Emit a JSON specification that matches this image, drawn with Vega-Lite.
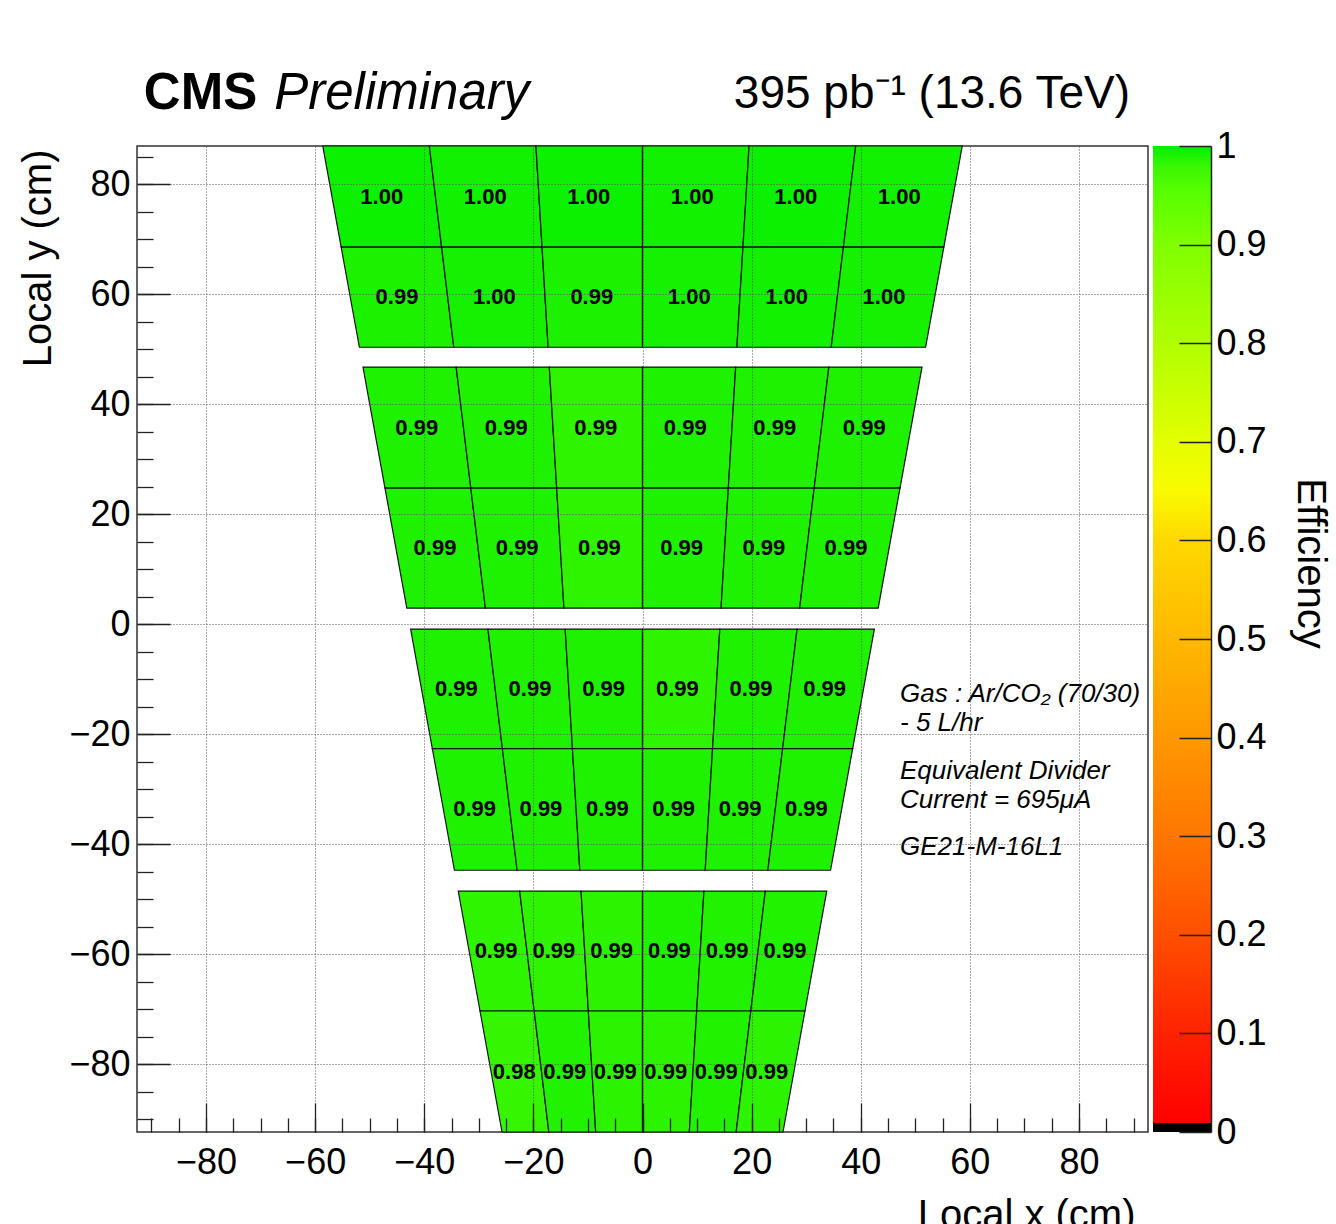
{
"$schema": "https://vega.github.io/schema/vega-lite/v6.json",
"usermeta": {"embedOptions": {"actions": false}},
"background": "white",
"padding": {"left": 17, "top": 67, "right": 8, "bottom": -12},
"bounds": "flush",
"spacing": 5,
"config": {
  "font": "Liberation Sans",
  "view": {"stroke": "#333", "strokeWidth": 1.5},
  "axis": {"labelFont": "Liberation Sans", "titleFont": "Liberation Sans", "labelColor": "black", "titleColor": "black", "labelFlush": false, "labelOverlap": false, "labelBound": false}
},
"datasets": {
"cells": [
{"c":"1a0","e":0.998},{"c":"1a1","e":0.997},{"c":"1a2","e":0.998},{"c":"1a3","e":0.997},{"c":"1a4","e":0.998},{"c":"1a5","e":0.997},
{"c":"1b0","e":0.994},{"c":"1b1","e":0.996},{"c":"1b2","e":0.994},{"c":"1b3","e":0.996},{"c":"1b4","e":0.997},{"c":"1b5","e":0.996},
{"c":"2a0","e":0.993},{"c":"2a1","e":0.993},{"c":"2a2","e":0.986},{"c":"2a3","e":0.993},{"c":"2a4","e":0.993},{"c":"2a5","e":0.993},
{"c":"2b0","e":0.993},{"c":"2b1","e":0.993},{"c":"2b2","e":0.986},{"c":"2b3","e":0.993},{"c":"2b4","e":0.993},{"c":"2b5","e":0.993},
{"c":"3a0","e":0.993},{"c":"3a1","e":0.993},{"c":"3a2","e":0.993},{"c":"3a3","e":0.986},{"c":"3a4","e":0.993},{"c":"3a5","e":0.993},
{"c":"3b0","e":0.993},{"c":"3b1","e":0.993},{"c":"3b2","e":0.993},{"c":"3b3","e":0.993},{"c":"3b4","e":0.993},{"c":"3b5","e":0.993},
{"c":"4a0","e":0.986},{"c":"4a1","e":0.986},{"c":"4a2","e":0.987},{"c":"4a3","e":0.993},{"c":"4a4","e":0.992},{"c":"4a5","e":0.992},
{"c":"4b0","e":0.982},{"c":"4b1","e":0.992},{"c":"4b2","e":0.987},{"c":"4b3","e":0.987},{"c":"4b4","e":0.992},{"c":"4b5","e":0.987}
],
"verts": [
{"c":"1a0","i":0,"x":-55.23,"y":68.6},{"c":"1a0","i":1,"x":-36.82,"y":68.6},{"c":"1a0","i":2,"x":-39.07,"y":87},{"c":"1a0","i":3,"x":-58.6,"y":87},
{"c":"1a1","i":0,"x":-36.82,"y":68.6},{"c":"1a1","i":1,"x":-18.41,"y":68.6},{"c":"1a1","i":2,"x":-19.53,"y":87},{"c":"1a1","i":3,"x":-39.07,"y":87},
{"c":"1a2","i":0,"x":-18.41,"y":68.6},{"c":"1a2","i":1,"x":0,"y":68.6},{"c":"1a2","i":2,"x":0,"y":87},{"c":"1a2","i":3,"x":-19.53,"y":87},
{"c":"1a3","i":0,"x":0,"y":68.6},{"c":"1a3","i":1,"x":18.41,"y":68.6},{"c":"1a3","i":2,"x":19.53,"y":87},{"c":"1a3","i":3,"x":0,"y":87},
{"c":"1a4","i":0,"x":18.41,"y":68.6},{"c":"1a4","i":1,"x":36.82,"y":68.6},{"c":"1a4","i":2,"x":39.07,"y":87},{"c":"1a4","i":3,"x":19.53,"y":87},
{"c":"1a5","i":0,"x":36.82,"y":68.6},{"c":"1a5","i":1,"x":55.23,"y":68.6},{"c":"1a5","i":2,"x":58.6,"y":87},{"c":"1a5","i":3,"x":39.07,"y":87},
{"c":"1b0","i":0,"x":-51.89,"y":50.4},{"c":"1b0","i":1,"x":-34.59,"y":50.4},{"c":"1b0","i":2,"x":-36.82,"y":68.6},{"c":"1b0","i":3,"x":-55.23,"y":68.6},
{"c":"1b1","i":0,"x":-34.59,"y":50.4},{"c":"1b1","i":1,"x":-17.3,"y":50.4},{"c":"1b1","i":2,"x":-18.41,"y":68.6},{"c":"1b1","i":3,"x":-36.82,"y":68.6},
{"c":"1b2","i":0,"x":-17.3,"y":50.4},{"c":"1b2","i":1,"x":0,"y":50.4},{"c":"1b2","i":2,"x":0,"y":68.6},{"c":"1b2","i":3,"x":-18.41,"y":68.6},
{"c":"1b3","i":0,"x":0,"y":50.4},{"c":"1b3","i":1,"x":17.3,"y":50.4},{"c":"1b3","i":2,"x":18.41,"y":68.6},{"c":"1b3","i":3,"x":0,"y":68.6},
{"c":"1b4","i":0,"x":17.3,"y":50.4},{"c":"1b4","i":1,"x":34.59,"y":50.4},{"c":"1b4","i":2,"x":36.82,"y":68.6},{"c":"1b4","i":3,"x":18.41,"y":68.6},
{"c":"1b5","i":0,"x":34.59,"y":50.4},{"c":"1b5","i":1,"x":51.89,"y":50.4},{"c":"1b5","i":2,"x":55.23,"y":68.6},{"c":"1b5","i":3,"x":36.82,"y":68.6},
{"c":"2a0","i":0,"x":-47.2,"y":24.8},{"c":"2a0","i":1,"x":-31.47,"y":24.8},{"c":"2a0","i":2,"x":-34.15,"y":46.8},{"c":"2a0","i":3,"x":-51.23,"y":46.8},
{"c":"2a1","i":0,"x":-31.47,"y":24.8},{"c":"2a1","i":1,"x":-15.73,"y":24.8},{"c":"2a1","i":2,"x":-17.08,"y":46.8},{"c":"2a1","i":3,"x":-34.15,"y":46.8},
{"c":"2a2","i":0,"x":-15.73,"y":24.8},{"c":"2a2","i":1,"x":0,"y":24.8},{"c":"2a2","i":2,"x":0,"y":46.8},{"c":"2a2","i":3,"x":-17.08,"y":46.8},
{"c":"2a3","i":0,"x":0,"y":24.8},{"c":"2a3","i":1,"x":15.73,"y":24.8},{"c":"2a3","i":2,"x":17.08,"y":46.8},{"c":"2a3","i":3,"x":0,"y":46.8},
{"c":"2a4","i":0,"x":15.73,"y":24.8},{"c":"2a4","i":1,"x":31.47,"y":24.8},{"c":"2a4","i":2,"x":34.15,"y":46.8},{"c":"2a4","i":3,"x":17.08,"y":46.8},
{"c":"2a5","i":0,"x":31.47,"y":24.8},{"c":"2a5","i":1,"x":47.2,"y":24.8},{"c":"2a5","i":2,"x":51.23,"y":46.8},{"c":"2a5","i":3,"x":34.15,"y":46.8},
{"c":"2b0","i":0,"x":-43.2,"y":2.96},{"c":"2b0","i":1,"x":-28.8,"y":2.96},{"c":"2b0","i":2,"x":-31.47,"y":24.8},{"c":"2b0","i":3,"x":-47.2,"y":24.8},
{"c":"2b1","i":0,"x":-28.8,"y":2.96},{"c":"2b1","i":1,"x":-14.4,"y":2.96},{"c":"2b1","i":2,"x":-15.73,"y":24.8},{"c":"2b1","i":3,"x":-31.47,"y":24.8},
{"c":"2b2","i":0,"x":-14.4,"y":2.96},{"c":"2b2","i":1,"x":0,"y":2.96},{"c":"2b2","i":2,"x":0,"y":24.8},{"c":"2b2","i":3,"x":-15.73,"y":24.8},
{"c":"2b3","i":0,"x":0,"y":2.96},{"c":"2b3","i":1,"x":14.4,"y":2.96},{"c":"2b3","i":2,"x":15.73,"y":24.8},{"c":"2b3","i":3,"x":0,"y":24.8},
{"c":"2b4","i":0,"x":14.4,"y":2.96},{"c":"2b4","i":1,"x":28.8,"y":2.96},{"c":"2b4","i":2,"x":31.47,"y":24.8},{"c":"2b4","i":3,"x":15.73,"y":24.8},
{"c":"2b5","i":0,"x":28.8,"y":2.96},{"c":"2b5","i":1,"x":43.2,"y":2.96},{"c":"2b5","i":2,"x":47.2,"y":24.8},{"c":"2b5","i":3,"x":31.47,"y":24.8},
{"c":"3a0","i":0,"x":-38.52,"y":-22.6},{"c":"3a0","i":1,"x":-25.68,"y":-22.6},{"c":"3a0","i":2,"x":-28.33,"y":-0.85},{"c":"3a0","i":3,"x":-42.5,"y":-0.85},
{"c":"3a1","i":0,"x":-25.68,"y":-22.6},{"c":"3a1","i":1,"x":-12.84,"y":-22.6},{"c":"3a1","i":2,"x":-14.17,"y":-0.85},{"c":"3a1","i":3,"x":-28.33,"y":-0.85},
{"c":"3a2","i":0,"x":-12.84,"y":-22.6},{"c":"3a2","i":1,"x":0,"y":-22.6},{"c":"3a2","i":2,"x":0,"y":-0.85},{"c":"3a2","i":3,"x":-14.17,"y":-0.85},
{"c":"3a3","i":0,"x":0,"y":-22.6},{"c":"3a3","i":1,"x":12.84,"y":-22.6},{"c":"3a3","i":2,"x":14.17,"y":-0.85},{"c":"3a3","i":3,"x":0,"y":-0.85},
{"c":"3a4","i":0,"x":12.84,"y":-22.6},{"c":"3a4","i":1,"x":25.68,"y":-22.6},{"c":"3a4","i":2,"x":28.33,"y":-0.85},{"c":"3a4","i":3,"x":14.17,"y":-0.85},
{"c":"3a5","i":0,"x":25.68,"y":-22.6},{"c":"3a5","i":1,"x":38.52,"y":-22.6},{"c":"3a5","i":2,"x":42.5,"y":-0.85},{"c":"3a5","i":3,"x":28.33,"y":-0.85},
{"c":"3b0","i":0,"x":-34.47,"y":-44.7},{"c":"3b0","i":1,"x":-22.98,"y":-44.7},{"c":"3b0","i":2,"x":-25.68,"y":-22.6},{"c":"3b0","i":3,"x":-38.52,"y":-22.6},
{"c":"3b1","i":0,"x":-22.98,"y":-44.7},{"c":"3b1","i":1,"x":-11.49,"y":-44.7},{"c":"3b1","i":2,"x":-12.84,"y":-22.6},{"c":"3b1","i":3,"x":-25.68,"y":-22.6},
{"c":"3b2","i":0,"x":-11.49,"y":-44.7},{"c":"3b2","i":1,"x":0,"y":-44.7},{"c":"3b2","i":2,"x":0,"y":-22.6},{"c":"3b2","i":3,"x":-12.84,"y":-22.6},
{"c":"3b3","i":0,"x":0,"y":-44.7},{"c":"3b3","i":1,"x":11.49,"y":-44.7},{"c":"3b3","i":2,"x":12.84,"y":-22.6},{"c":"3b3","i":3,"x":0,"y":-22.6},
{"c":"3b4","i":0,"x":11.49,"y":-44.7},{"c":"3b4","i":1,"x":22.98,"y":-44.7},{"c":"3b4","i":2,"x":25.68,"y":-22.6},{"c":"3b4","i":3,"x":12.84,"y":-22.6},
{"c":"3b5","i":0,"x":22.98,"y":-44.7},{"c":"3b5","i":1,"x":34.47,"y":-44.7},{"c":"3b5","i":2,"x":38.52,"y":-22.6},{"c":"3b5","i":3,"x":25.68,"y":-22.6},
{"c":"4a0","i":0,"x":-29.78,"y":-70.3},{"c":"4a0","i":1,"x":-19.85,"y":-70.3},{"c":"4a0","i":2,"x":-22.51,"y":-48.5},{"c":"4a0","i":3,"x":-33.77,"y":-48.5},
{"c":"4a1","i":0,"x":-19.85,"y":-70.3},{"c":"4a1","i":1,"x":-9.93,"y":-70.3},{"c":"4a1","i":2,"x":-11.26,"y":-48.5},{"c":"4a1","i":3,"x":-22.51,"y":-48.5},
{"c":"4a2","i":0,"x":-9.93,"y":-70.3},{"c":"4a2","i":1,"x":0,"y":-70.3},{"c":"4a2","i":2,"x":0,"y":-48.5},{"c":"4a2","i":3,"x":-11.26,"y":-48.5},
{"c":"4a3","i":0,"x":0,"y":-70.3},{"c":"4a3","i":1,"x":9.93,"y":-70.3},{"c":"4a3","i":2,"x":11.26,"y":-48.5},{"c":"4a3","i":3,"x":0,"y":-48.5},
{"c":"4a4","i":0,"x":9.93,"y":-70.3},{"c":"4a4","i":1,"x":19.85,"y":-70.3},{"c":"4a4","i":2,"x":22.51,"y":-48.5},{"c":"4a4","i":3,"x":11.26,"y":-48.5},
{"c":"4a5","i":0,"x":19.85,"y":-70.3},{"c":"4a5","i":1,"x":29.78,"y":-70.3},{"c":"4a5","i":2,"x":33.77,"y":-48.5},{"c":"4a5","i":3,"x":22.51,"y":-48.5},
{"c":"4b0","i":0,"x":-25.75,"y":-92.3},{"c":"4b0","i":1,"x":-17.17,"y":-92.3},{"c":"4b0","i":2,"x":-19.85,"y":-70.3},{"c":"4b0","i":3,"x":-29.78,"y":-70.3},
{"c":"4b1","i":0,"x":-17.17,"y":-92.3},{"c":"4b1","i":1,"x":-8.58,"y":-92.3},{"c":"4b1","i":2,"x":-9.93,"y":-70.3},{"c":"4b1","i":3,"x":-19.85,"y":-70.3},
{"c":"4b2","i":0,"x":-8.58,"y":-92.3},{"c":"4b2","i":1,"x":0,"y":-92.3},{"c":"4b2","i":2,"x":0,"y":-70.3},{"c":"4b2","i":3,"x":-9.93,"y":-70.3},
{"c":"4b3","i":0,"x":0,"y":-92.3},{"c":"4b3","i":1,"x":8.58,"y":-92.3},{"c":"4b3","i":2,"x":9.93,"y":-70.3},{"c":"4b3","i":3,"x":0,"y":-70.3},
{"c":"4b4","i":0,"x":8.58,"y":-92.3},{"c":"4b4","i":1,"x":17.17,"y":-92.3},{"c":"4b4","i":2,"x":19.85,"y":-70.3},{"c":"4b4","i":3,"x":9.93,"y":-70.3},
{"c":"4b5","i":0,"x":17.17,"y":-92.3},{"c":"4b5","i":1,"x":25.75,"y":-92.3},{"c":"4b5","i":2,"x":29.78,"y":-70.3},{"c":"4b5","i":3,"x":19.85,"y":-70.3}
]
},
"hconcat": [
{
  "width": 1011,
  "height": 986,
  "resolve": {"axis": {"x": "independent", "y": "independent"}},
  "layer": [
    {
      "data": {"name": "verts"},
      "transform": [{"lookup": "c", "from": {"data": {"name": "cells"}, "key": "c", "fields": ["e"]}}],
      "mark": {"type": "line", "interpolate": "linear-closed", "stroke": "#111", "strokeWidth": 1.2},
      "encoding": {
        "x": {"field": "x", "type": "quantitative", "scale": {"domain": [-92.65, 92.65], "nice": false, "zero": false},
              "axis": {"orient": "bottom", "values": [-80,-60,-40,-20,0,20,40,60,80], "tickSize": -29, "tickColor": "#222", "tickWidth": 1.3, "domain": false,
                       "grid": true, "gridColor": "#555", "gridDash": [1,2], "gridWidth": 1,
                       "labelFontSize": 36, "labelPadding": 42,
                       "title": "Local x (cm)", "titleFontSize": 40, "titleFontWeight": "normal", "titleAlign": "right", "titleAnchor": "end", "titleBaseline": "alphabetic", "titleX": 998, "titleY": 95, "zindex": 1}},
        "y": {"field": "y", "type": "quantitative", "scale": {"domain": [-92.3, 87], "nice": false, "zero": false},
              "axis": {"orient": "left", "values": [-80,-60,-40,-20,0,20,40,60,80], "tickSize": -33, "tickColor": "#222", "tickWidth": 1.3, "domain": false,
                       "grid": true, "gridColor": "#555", "gridDash": [1,2], "gridWidth": 1,
                       "labelFontSize": 36, "labelPadding": 40, "labelBaseline": "middle",
                       "title": "Local y (cm)", "titleFontSize": 40, "titleFontWeight": "normal", "titleAngle": -90, "titleAlign": "right", "titleBaseline": "middle", "titleX": -99, "titleY": 3, "zindex": 1}},
        "order": {"field": "i", "type": "quantitative"},
        "detail": {"field": "c", "type": "nominal"},
        "fill": {"field": "e", "type": "quantitative", "legend": null,
                 "scale": {"domain": [0, 0.1, 0.2, 0.3, 0.4, 0.5, 0.6, 0.65, 0.7, 0.8, 0.9, 0.95, 0.98, 1],
                           "range": ["#ff0000", "#ff2200", "#ff4f00", "#ff7700", "#ff9800", "#ffb800", "#ffd800", "#fafa00", "#e4ff00", "#b0ff00", "#80ff00", "#5cff00", "#38f600", "#00f000"]}}
      }
    },
    {
      "data": {"name": "verts"},
      "transform": [
        {"aggregate": [{"op": "mean", "field": "x", "as": "cx"}, {"op": "mean", "field": "y", "as": "cy"}], "groupby": ["c"]},
        {"lookup": "c", "from": {"data": {"name": "cells"}, "key": "c", "fields": ["e"]}}
      ],
      "mark": {"type": "text", "font": "Liberation Sans", "fontWeight": "bold", "fontSize": 22, "color": "black", "dx": -2, "baseline": "middle"},
      "encoding": {
        "x": {"field": "cx", "type": "quantitative", "scale": {"domain": [-92.65, 92.65], "nice": false, "zero": false},
              "axis": {"orient": "bottom", "values": [-90,-85,-80,-75,-70,-65,-60,-55,-50,-45,-40,-35,-30,-25,-20,-15,-10,-5,0,5,10,15,20,25,30,35,40,45,50,55,60,65,70,75,80,85,90],
                       "tickSize": -14, "tickColor": "#222", "tickWidth": 1.3, "labels": false, "grid": false, "domain": false, "title": null, "zindex": 1}},
        "y": {"field": "cy", "type": "quantitative", "scale": {"domain": [-92.3, 87], "nice": false, "zero": false},
              "axis": {"orient": "left", "values": [-90,-85,-80,-75,-70,-65,-60,-55,-50,-45,-40,-35,-30,-25,-20,-15,-10,-5,0,5,10,15,20,25,30,35,40,45,50,55,60,65,70,75,80,85],
                       "tickSize": -16, "tickColor": "#222", "tickWidth": 1.3, "labels": false, "grid": false, "domain": false, "title": null, "zindex": 1}},
        "text": {"field": "e", "type": "quantitative", "format": ".2f"}
      }
    },
    {
      "data": {"values": [{}]},
      "mark": {"type": "text", "text": ["Gas : Ar/CO₂ (70/30)", "- 5 L/hr"], "font": "Liberation Sans", "fontStyle": "italic", "fontSize": 26, "lineHeight": 29.3, "align": "left", "baseline": "top", "color": "black"},
      "encoding": {
        "x": {"datum": 47.2, "type": "quantitative", "scale": {"domain": [-92.65, 92.65], "nice": false, "zero": false}, "axis": null},
        "y": {"datum": -10.2, "type": "quantitative", "scale": {"domain": [-92.3, 87], "nice": false, "zero": false}, "axis": null}
      }
    },
    {
      "data": {"values": [{}]},
      "mark": {"type": "text", "text": ["Equivalent Divider", "Current = 695μA"], "font": "Liberation Sans", "fontStyle": "italic", "fontSize": 26, "lineHeight": 29.3, "align": "left", "baseline": "top", "color": "black"},
      "encoding": {
        "x": {"datum": 47.2, "type": "quantitative", "scale": {"domain": [-92.65, 92.65], "nice": false, "zero": false}, "axis": null},
        "y": {"datum": -24.3, "type": "quantitative", "scale": {"domain": [-92.3, 87], "nice": false, "zero": false}, "axis": null}
      }
    },
    {
      "data": {"values": [{}]},
      "mark": {"type": "text", "text": "GE21-M-16L1", "font": "Liberation Sans", "fontStyle": "italic", "fontSize": 26, "align": "left", "baseline": "top", "color": "black"},
      "encoding": {
        "x": {"datum": 47.2, "type": "quantitative", "scale": {"domain": [-92.65, 92.65], "nice": false, "zero": false}, "axis": null},
        "y": {"datum": -38.2, "type": "quantitative", "scale": {"domain": [-92.3, 87], "nice": false, "zero": false}, "axis": null}
      }
    },
    {
      "data": {"values": [{}]},
      "mark": {"type": "text", "text": "CMS", "font": "Liberation Sans", "fontWeight": "bold", "fontSize": 51, "align": "left", "baseline": "alphabetic", "color": "black"},
      "encoding": {
        "x": {"datum": -91.4, "type": "quantitative", "scale": {"domain": [-92.65, 92.65], "nice": false, "zero": false}, "axis": null},
        "y": {"datum": 93.7, "type": "quantitative", "scale": {"domain": [-92.3, 87], "nice": false, "zero": false}, "axis": null}
      }
    },
    {
      "data": {"values": [{}]},
      "mark": {"type": "text", "text": "Preliminary", "font": "Liberation Sans", "fontStyle": "italic", "fontSize": 51, "align": "left", "baseline": "alphabetic", "color": "black"},
      "encoding": {
        "x": {"datum": -67.5, "type": "quantitative", "scale": {"domain": [-92.65, 92.65], "nice": false, "zero": false}, "axis": null},
        "y": {"datum": 93.7, "type": "quantitative", "scale": {"domain": [-92.3, 87], "nice": false, "zero": false}, "axis": null}
      }
    },
    {
      "data": {"values": [{}]},
      "mark": {"type": "text", "text": "395 pb⁻¹ (13.6 TeV)", "font": "Liberation Sans", "fontSize": 46, "align": "right", "baseline": "alphabetic", "color": "black"},
      "encoding": {
        "x": {"datum": 89.35, "type": "quantitative", "scale": {"domain": [-92.65, 92.65], "nice": false, "zero": false}, "axis": null},
        "y": {"datum": 94.0, "type": "quantitative", "scale": {"domain": [-92.3, 87], "nice": false, "zero": false}, "axis": null}
      }
    }
  ]
},
{
  "width": 58,
  "height": 986,
  "view": {"stroke": null},
  "data": {"values": [{"lo": 0, "hi": 1}]},
  "mark": {"type": "rect", "fill": {"gradient": "linear", "x1": 0, "y1": 1, "x2": 0, "y2": 0,
     "stops": [
       {"offset": 0, "color": "#000000"}, {"offset": 0.009, "color": "#000000"}, {"offset": 0.0095, "color": "#ff0000"},
       {"offset": 0.1, "color": "#ff2200"}, {"offset": 0.2, "color": "#ff4f00"}, {"offset": 0.3, "color": "#ff7700"},
       {"offset": 0.4, "color": "#ff9800"}, {"offset": 0.5, "color": "#ffb800"}, {"offset": 0.6, "color": "#ffd800"},
       {"offset": 0.65, "color": "#fafa00"}, {"offset": 0.7, "color": "#e4ff00"}, {"offset": 0.8, "color": "#b0ff00"},
       {"offset": 0.9, "color": "#80ff00"}, {"offset": 0.95, "color": "#5cff00"}, {"offset": 0.98, "color": "#38f600"},
       {"offset": 1, "color": "#00f000"}]}},
  "encoding": {
    "y": {"field": "lo", "type": "quantitative", "scale": {"domain": [0, 1], "nice": false, "zero": false},
          "axis": {"orient": "right", "values": [0, 0.1, 0.2, 0.3, 0.4, 0.5, 0.6, 0.7, 0.8, 0.9, 1], "format": "~g",
                   "tickSize": -32, "tickColor": "#222", "tickWidth": 1.3, "domain": true, "domainColor": "#222", "domainWidth": 1.5, "grid": false,
                   "labelFontSize": 36, "labelPadding": 37, "labelBaseline": "middle", "labelAlign": "left",
                   "title": "Efficiency", "titleFontSize": 40, "titleFontWeight": "normal", "titleAngle": 90, "titleAlign": "center", "titleBaseline": "alphabetic", "titleX": 86, "titleY": 417, "zindex": 1}},
    "y2": {"field": "hi"}
  }
}
]
}
